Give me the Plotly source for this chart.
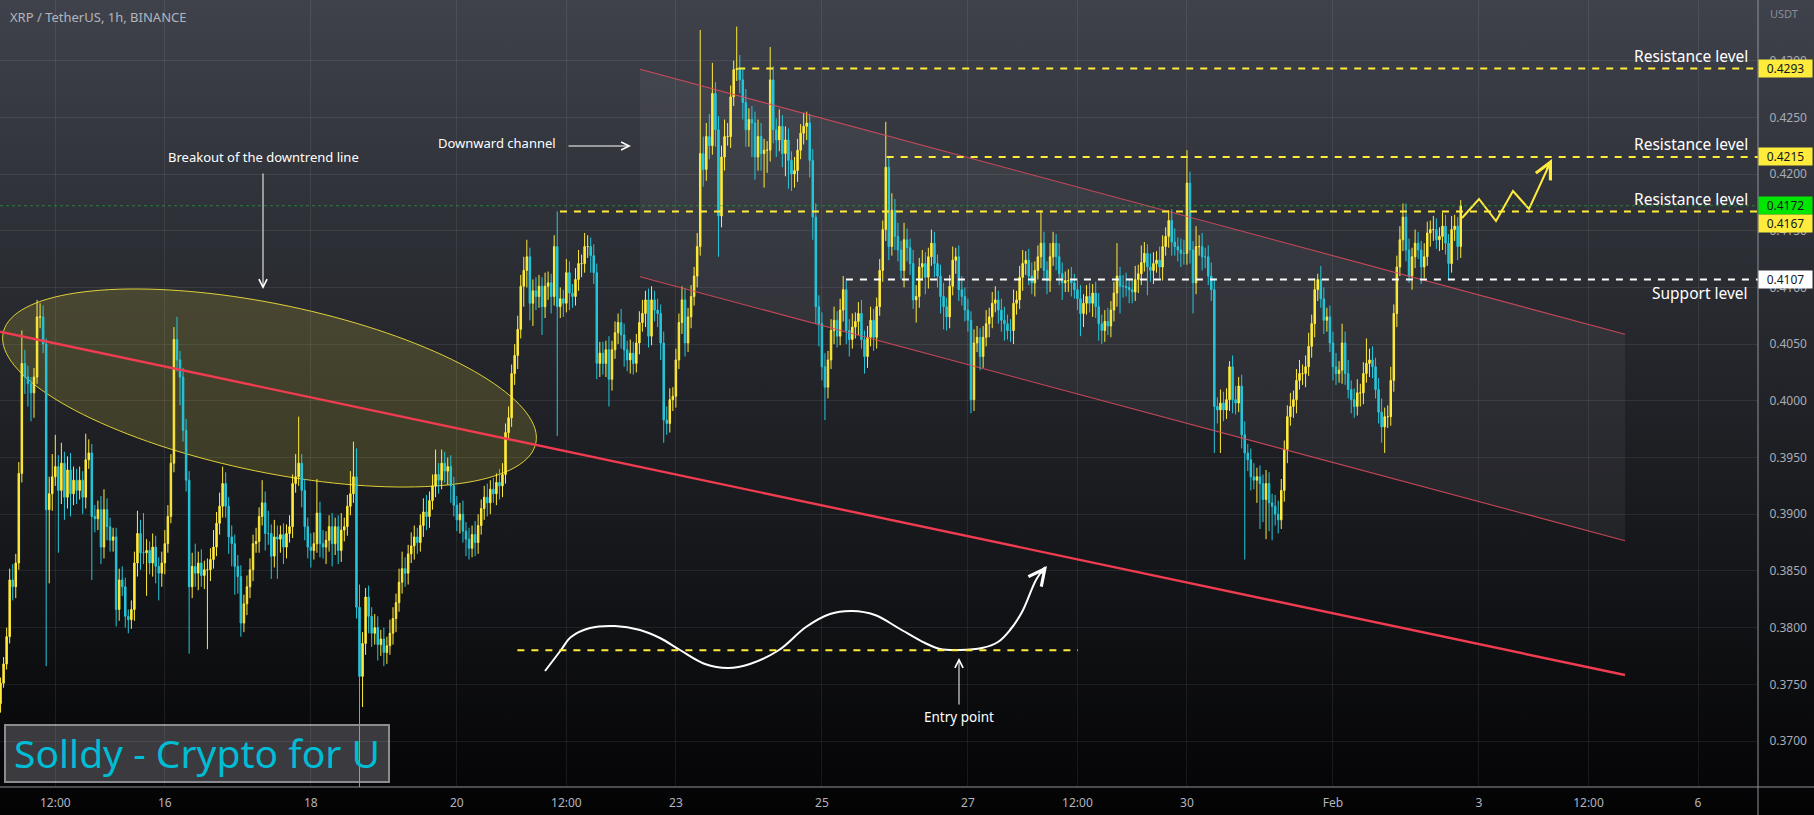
import base64
import datetime as dt
import numpy as np
import plotly.graph_objects as go

W, H = 1814, 815
MR, MB = 56, 28
PW, PH = W - MR, H - MB  # plot area 1758 x 787

T0 = dt.datetime(2023, 1, 16)


def t(h):
    return T0 + dt.timedelta(hours=h)


# ---------------- data (prices in units of 0.0001 USDT, 1h candles) ----------------
first_open = 3733
close_jan13 = [3751, 3768, 3792, 3842, 3836, 3857]
close_jan14 = [3936, 4033, 4021, 4015, 4007, 4021, 4074, 4074, 4050, 3904, 3918, 3933,
               3942, 3921, 3945, 3915, 3939, 3918, 3930, 3921, 3930, 3915, 3948, 3954]
close_jan15 = [3898, 3896, 3904, 3871, 3904, 3889, 3877, 3880, 3816, 3842, 3836, 3810,
               3807, 3816, 3857, 3883, 3866, 3866, 3868, 3857, 3871, 3854, 3848, 3857]
close_jan16 = [3874, 3898, 3945, 4054, 4036, 4021, 3974, 3930, 3836, 3854, 3848, 3857,
               3846, 3851, 3851, 3860, 3871, 3892, 3907, 3927, 3907, 3880, 3874, 3854]
close_jan17 = [3845, 3804, 3821, 3836, 3851, 3874, 3876, 3898, 3910, 3883, 3883, 3863,
               3880, 3878, 3882, 3871, 3883, 3889, 3927, 3933, 3945, 3921, 3889, 3871]
close_jan18 = [3868, 3874, 3901, 3874, 3871, 3877, 3889, 3874, 3889, 3868, 3886, 3889,
               3907, 3918, 3933, 3818, 3757, 3786, 3827, 3810, 3795, 3800, 3785, 3790]
close_jan19 = [3778, 3784, 3795, 3808, 3822, 3840, 3852, 3848, 3865, 3872, 3880, 3875,
               3890, 3902, 3898, 3912, 3925, 3935, 3930, 3945, 3938, 3942, 3925, 3908]
close_jan20 = [3895, 3900, 3885, 3878, 3870, 3882, 3875, 3890, 3905, 3915, 3910, 3922,
               3918, 3928, 3925, 3935, 3972, 3985, 4024, 4040, 4063, 4101, 4115, 4127]
close_jan21 = [4086, 4097, 4092, 4101, 4083, 4101, 4104, 4092, 4136, 4083, 4090, 4086,
               4113, 4095, 4092, 4107, 4121, 4121, 4136, 4136, 4128, 4113, 4033, 4042]
close_jan22 = [4033, 4045, 4019, 4045, 4060, 4069, 4058, 4045, 4036, 4042, 4033, 4051,
               4069, 4077, 4089, 4057, 4089, 4080, 4077, 4051, 3983, 3980, 4001, 4004]
close_jan23 = [4036, 4069, 4089, 4051, 4074, 4092, 4110, 4136, 4218, 4204, 4233, 4225,
               4271, 4239, 4163, 4215, 4233, 4233, 4268, 4292, 4293, 4283, 4263, 4239]
close_jan24 = [4248, 4245, 4215, 4233, 4218, 4221, 4221, 4283, 4239, 4230, 4242, 4218,
               4230, 4212, 4200, 4203, 4221, 4236, 4242, 4245, 4212, 4162, 4083, 4068]
close_jan25 = [4030, 4012, 4036, 4062, 4071, 4057, 4080, 4098, 4062, 4054, 4065, 4070,
               4077, 4054, 4039, 4056, 4071, 4056, 4083, 4115, 4151, 4206, 4136, 4168]
close_jan26 = [4145, 4133, 4115, 4142, 4135, 4121, 4089, 4092, 4118, 4121, 4109, 4127,
               4139, 4121, 4110, 4092, 4083, 4074, 4101, 4124, 4127, 4098, 4092, 4080]
close_jan27 = [4071, 4001, 4051, 4056, 4039, 4056, 4068, 4074, 4086, 4089, 4080, 4071,
               4068, 4062, 4062, 4086, 4089, 4109, 4121, 4124, 4110, 4104, 4115, 4127]
close_jan28 = [4139, 4115, 4106, 4127, 4139, 4127, 4112, 4104, 4106, 4106, 4104, 4098,
               4090, 4077, 4086, 4092, 4086, 4095, 4083, 4068, 4062, 4070, 4066, 4080]
close_jan29 = [4095, 4110, 4101, 4101, 4100, 4098, 4096, 4107, 4112, 4122, 4130, 4118,
               4115, 4121, 4124, 4118, 4136, 4145, 4159, 4140, 4136, 4133, 4130, 4130]
close_jan30 = [4192, 4133, 4104, 4136, 4136, 4127, 4127, 4110, 4098, 3995, 3992, 3998,
               3992, 4001, 4030, 4001, 3998, 4013, 3970, 3954, 3948, 3933, 3930, 3933]
close_jan31 = [3927, 3913, 3927, 3910, 3907, 3900, 3895, 3921, 3957, 3986, 3995, 4001,
               4018, 4024, 4024, 4030, 4048, 4068, 4098, 4107, 4090, 4071, 4074, 4051]
close_feb01 = [4030, 4024, 4027, 4051, 4024, 4010, 4001, 3995, 4007, 4007, 4024, 4033,
               4036, 4030, 4010, 3990, 3977, 3986, 3986, 4018, 4077, 4118, 4142, 4162]
close_feb02 = [4133, 4110, 4127, 4139, 4133, 4118, 4127, 4148, 4151, 4151, 4142, 4145,
               4154, 4139, 4121, 4151, 4154, 4136, 4172]

# upper / lower wick lengths above / below the body (same units)
up_jan13 = [5, 6, 8, 10, 14, 8]
dn_jan13 = [8, 4, 5, 6, 12, 10]
up_jan14 = [10, 29, 12, 10, 6, 8, 15, 12, 10, 5, 15, 20, 28, 10, 18, 10, 12, 15, 12, 10, 12, 8, 23, 12]
dn_jan14 = [6, 8, 15, 20, 25, 22, 6, 10, 8, 138, 65, 15, 8, 55, 12, 20, 10, 20, 10, 12, 8, 15, 10, 8]
up_jan15 = [8, 10, 8, 12, 18, 10, 8, 8, 8, 10, 12, 8, 6, 8, 10, 20, 12, 35, 10, 8, 12, 10, 8, 10]
dn_jan15 = [56, 12, 10, 15, 10, 12, 10, 10, 15, 10, 8, 10, 12, 8, 10, 12, 15, 10, 38, 10, 12, 15, 24, 12]
up_jan16 = [12, 10, 8, 11, 20, 8, 8, 10, 8, 12, 20, 10, 12, 8, 10, 10, 15, 10, 12, 15, 10, 8, 10, 8]
dn_jan16 = [10, 8, 6, 8, 10, 25, 10, 10, 59, 10, 12, 15, 10, 12, 70, 10, 8, 8, 10, 10, 10, 15, 20, 25]
up_jan17 = [10, 10, 8, 10, 10, 8, 12, 8, 20, 10, 20, 8, 15, 10, 8, 10, 8, 10, 8, 20, 41, 8, 10, 8]
dn_jan17 = [15, 12, 8, 10, 10, 10, 8, 10, 8, 15, 10, 20, 10, 35, 12, 15, 10, 8, 10, 8, 8, 15, 12, 10]
up_jan18 = [12, 10, 30, 10, 12, 8, 10, 12, 8, 10, 15, 8, 10, 20, 31, 25, 20, 10, 8, 10, 8, 12, 10, 8]
dn_jan18 = [15, 8, 8, 12, 10, 15, 10, 20, 10, 12, 10, 10, 8, 8, 8, 10, 157, 27, 10, 15, 12, 10, 14, 10]
up_jan19 = [10, 8, 12, 10, 8, 12, 15, 10, 8, 12, 10, 8, 10, 12, 15, 8, 10, 22, 10, 12, 10, 8, 10, 8]
dn_jan19 = [12, 10, 8, 10, 12, 8, 10, 12, 10, 8, 12, 10, 8, 10, 12, 10, 8, 10, 12, 8, 10, 12, 15, 10]
up_jan20 = [8, 10, 12, 8, 10, 8, 12, 10, 8, 10, 12, 8, 10, 8, 12, 10, 8, 10, 8, 10, 12, 10, 12, 15]
dn_jan20 = [10, 12, 10, 15, 10, 8, 12, 10, 8, 10, 12, 10, 8, 10, 12, 10, 8, 6, 8, 10, 12, 8, 18, 15]
up_jan21 = [8, 10, 12, 10, 8, 12, 10, 8, 10, 31, 10, 8, 12, 10, 8, 10, 12, 8, 12, 10, 8, 10, 8, 10]
dn_jan21 = [15, 20, 12, 10, 25, 10, 12, 15, 8, 114, 10, 12, 8, 15, 10, 8, 10, 12, 8, 10, 15, 10, 14, 12]
up_jan22 = [10, 8, 12, 8, 10, 8, 12, 10, 8, 12, 10, 8, 10, 12, 8, 10, 12, 8, 10, 8, 10, 12, 10, 8]
dn_jan22 = [10, 12, 24, 10, 8, 10, 12, 15, 10, 12, 10, 8, 10, 8, 12, 10, 8, 10, 12, 15, 20, 10, 8, 10]
up_jan23 = [10, 8, 12, 10, 8, 10, 8, 12, 109, 15, 12, 20, 27, 10, 12, 10, 15, 12, 10, 8, 37, 12, 10, 12]
dn_jan23 = [10, 8, 10, 12, 8, 10, 8, 10, 8, 15, 10, 12, 8, 15, 36, 10, 12, 8, 10, 8, 10, 12, 15, 15]
up_jan24 = [10, 12, 10, 15, 12, 10, 8, 29, 12, 10, 15, 10, 12, 10, 8, 12, 10, 8, 12, 10, 8, 10, 12, 10]
dn_jan24 = [15, 30, 20, 12, 15, 30, 20, 10, 12, 15, 10, 12, 20, 25, 15, 12, 10, 8, 10, 12, 15, 20, 15, 20]
up_jan25 = [10, 12, 8, 10, 12, 8, 10, 12, 8, 10, 12, 8, 10, 12, 8, 10, 12, 10, 8, 10, 8, 40, 8, 15]
dn_jan25 = [12, 29, 10, 8, 12, 10, 8, 10, 12, 15, 8, 10, 12, 8, 15, 10, 8, 12, 10, 8, 10, 10, 12, 8]
up_jan26 = [10, 12, 8, 15, 10, 8, 12, 10, 8, 12, 10, 8, 12, 10, 8, 10, 12, 8, 10, 12, 8, 10, 12, 8]
dn_jan26 = [12, 10, 8, 15, 12, 10, 8, 20, 10, 12, 15, 10, 8, 12, 10, 15, 20, 12, 10, 8, 12, 10, 8, 10]
up_jan27 = [10, 8, 12, 10, 8, 10, 12, 8, 10, 12, 8, 10, 12, 8, 10, 12, 8, 10, 12, 8, 10, 12, 8, 10]
dn_jan27 = [10, 12, 10, 8, 12, 10, 8, 12, 10, 8, 12, 10, 15, 8, 10, 12, 10, 8, 12, 10, 8, 10, 12, 8]
up_jan28 = [29, 10, 8, 12, 10, 8, 12, 10, 8, 10, 12, 8, 10, 12, 8, 10, 12, 8, 10, 12, 8, 10, 12, 8]
dn_jan28 = [10, 8, 12, 10, 8, 12, 10, 15, 8, 10, 12, 8, 10, 20, 12, 10, 8, 12, 10, 15, 12, 10, 8, 10]
up_jan29 = [10, 29, 8, 10, 12, 8, 10, 12, 8, 15, 10, 8, 12, 10, 8, 12, 10, 8, 9, 10, 12, 8, 10, 12]
dn_jan29 = [10, 12, 24, 10, 8, 12, 10, 8, 12, 10, 8, 25, 10, 12, 8, 10, 12, 8, 10, 12, 8, 10, 12, 10]
up_jan30 = [29, 10, 8, 18, 10, 12, 8, 10, 12, 10, 8, 12, 10, 10, 5, 10, 12, 8, 10, 12, 8, 10, 12, 8]
dn_jan30 = [10, 12, 27, 10, 8, 12, 10, 8, 10, 41, 12, 38, 10, 8, 10, 12, 10, 8, 12, 94, 10, 12, 8, 20]
up_jan31 = [10, 8, 12, 10, 8, 10, 12, 10, 8, 10, 12, 8, 10, 12, 8, 10, 12, 8, 10, 5, 12, 10, 8, 10]
dn_jan31 = [40, 20, 35, 25, 30, 10, 12, 8, 10, 12, 8, 10, 12, 8, 10, 12, 8, 10, 12, 10, 8, 12, 10, 8]
up_feb01 = [10, 12, 8, 17, 10, 12, 8, 10, 12, 8, 10, 22, 10, 12, 8, 10, 12, 8, 10, 12, 8, 10, 12, 12]
dn_feb01 = [12, 10, 8, 12, 10, 8, 12, 10, 8, 12, 10, 8, 12, 10, 8, 10, 14, 23, 10, 8, 10, 12, 8, 10]
up_feb02 = [12, 10, 8, 12, 10, 8, 12, 10, 8, 12, 10, 8, 12, 10, 8, 12, 10, 8, 5]
dn_feb02 = [10, 6, 12, 10, 8, 15, 10, 8, 12, 10, 8, 10, 12, 10, 14, 8, 10, 12, 10]

days = ["jan13", "jan14", "jan15", "jan16", "jan17", "jan18", "jan19", "jan20", "jan21",
        "jan22", "jan23", "jan24", "jan25", "jan26", "jan27", "jan28", "jan29", "jan30",
        "jan31", "feb01", "feb02"]
g = globals()
closes_u, ups, dns = [], [], []
for d in days:
    c, u, w = g["close_" + d], g["up_" + d], g["dn_" + d]
    assert len(c) == len(u) == len(w), d
    closes_u += c
    ups += u
    dns += w

opens_u = [first_open] + closes_u[:-1]
opens = [v / 1e4 for v in opens_u]
closes = [v / 1e4 for v in closes_u]
highs = [(max(o, c) + u) / 1e4 for o, c, u in zip(opens_u, closes_u, ups)]
lows = [(min(o, c) - w) / 1e4 for o, c, w in zip(opens_u, closes_u, dns)]
start = dt.datetime(2023, 1, 13, 18)
times = [start + dt.timedelta(hours=i) for i in range(len(closes))]

# levels / drawings (time in hours from Jan 16 00:00, price)
levels = [  # price, start hour, colour
    (0.4293, 188.5, "#ffeb3b"),
    (0.4215, 237.3, "#ffeb3b"),
    (0.4167, 129.9, "#ffeb3b"),
    (0.4107, 223.9, "#ffffff"),
]
entry_level = (0.3780, 115.9, 300.2)
trend_line = ((-54.18, 0.40609), (480.0, 0.37582))
channel_top = ((156.2, 0.42923), (480.0, 0.40587))
channel_bot = ((156.2, 0.41094), (480.0, 0.38766))
last_price = 0.4172

price_ticks = [0.370 + 0.005 * i for i in range(13)]
time_ticks = [t(-36), t(0), t(48), t(96), t(132), t(168), t(216), t(264), t(300),
              t(336), t(384), t(432), t(468), t(504)]
time_labels = ["12:00", "16", "18", "20", "12:00", "23", "25", "27", "12:00",
               "30", "Feb", "3", "12:00", "6"]

# ---------------- geometry helpers ----------------
H_LO, H_HI = -54.18, 523.72
P_LO, P_HI = 0.365944, 0.435344


def px_x(X):
    return t(H_LO + X / PW * (H_HI - H_LO))


def px_y(Y):
    return P_HI - Y / PH * (P_HI - P_LO)


def pap(X, Y):
    return X / PW, 1 - Y / PH


def dstr(d):
    return d.strftime("%Y-%m-%d_%H:%M:%S")


FONT = "Noto Sans, Liberation Sans, sans-serif"
GRID = "rgba(255,255,255,0.075)"
YEL = "#ffeb3b"
CYAN = "#26c6da"

fig = go.Figure()

# channel fill
(h0, p0), (h1, p1) = channel_top
(h2, p2), (h3, p3) = channel_bot
fig.add_shape(type="path", xref="x", yref="y", layer="below",
              path=f"M {dstr(t(h0))},{p0} L {dstr(t(h1))},{p1} L {dstr(t(h3))},{p3} L {dstr(t(h2))},{p2} Z",
              fillcolor="rgba(200,202,215,0.07)", line=dict(width=0))

# ellipse
cx, cy, ea, eb, th = 269.5, 388.0, 272.0, 84.0, np.radians(11.7)
phi = np.linspace(0, 2 * np.pi, 150)
ex = cx + ea * np.cos(phi) * np.cos(th) - eb * np.sin(phi) * np.sin(th)
ey = cy + ea * np.cos(phi) * np.sin(th) + eb * np.sin(phi) * np.cos(th)
pts = [pap(a, b) for a, b in zip(ex, ey)]
path = "M " + " L ".join(f"{a:.5f},{b:.5f}" for a, b in pts) + " Z"
fig.add_shape(type="path", xref="paper", yref="paper", layer="below", path=path,
              fillcolor="rgba(255,235,59,0.15)", line=dict(color="rgba(255,235,59,0.85)", width=1))

# watermark box
x0, y0 = pap(5, 782)
x1, y1 = pap(389, 725)
fig.add_shape(type="rect", xref="paper", yref="paper", layer="below", x0=x0, x1=x1, y0=y0, y1=y1,
              fillcolor="#3a3a3f", line=dict(color="#8c8c90", width=2))

fig.add_trace(go.Candlestick(
    x=times, open=opens, high=highs, low=lows, close=closes,
    increasing=dict(line=dict(color=YEL, width=1), fillcolor=YEL),
    decreasing=dict(line=dict(color=CYAN, width=1), fillcolor=CYAN),
    whiskerwidth=0, hoverinfo="skip", showlegend=False))

# wave sketch
wave_px = [(545, 671), (561, 650), (571, 637), (590, 628), (615, 626), (640, 630), (660, 638),
           (680, 650), (705, 664), (728, 668), (750, 664), (779, 650), (806, 627), (830, 614),
           (852, 611), (875, 615), (900, 629), (925, 643), (940, 649), (960, 650), (982, 648),
           (998, 642), (1010, 630), (1022, 612), (1036, 580), (1045, 567)]
fig.add_trace(go.Scatter(x=[px_x(a) for a, b in wave_px], y=[px_y(b) for a, b in wave_px],
                         mode="lines", line=dict(color="white", width=2, shape="spline", smoothing=1),
                         hoverinfo="skip", showlegend=False))

# yellow projection zigzag
zig_px = [(1462, 218), (1479, 199), (1496, 221), (1513, 191), (1529, 209), (1551, 161)]
fig.add_trace(go.Scatter(x=[px_x(a) for a, b in zig_px], y=[px_y(b) for a, b in zig_px],
                         mode="lines", line=dict(color=YEL, width=2),
                         hoverinfo="skip", showlegend=False))

# trend line & channel
for (ha, pa), (hb, pb), col, wd in [(trend_line[0], trend_line[1], "#ef3c50", 2.4),
                                    (channel_top[0], channel_top[1], "rgba(225,75,95,0.85)", 1.1),
                                    (channel_bot[0], channel_bot[1], "rgba(225,75,95,0.85)", 1.1)]:
    fig.add_shape(type="line", xref="x", yref="y", x0=t(ha), y0=pa, x1=t(hb), y1=pb,
                  line=dict(color=col, width=wd))

# dotted last price line
fig.add_shape(type="line", xref="x", yref="y", x0=t(H_LO), x1=t(H_HI), y0=last_price, y1=last_price,
              line=dict(color="rgba(40,190,60,0.55)", width=1, dash="dot"))

for p, h, col in levels:
    fig.add_shape(type="line", xref="x", yref="y", x0=t(h), x1=t(H_HI), y0=p, y1=p,
                  line=dict(color=col, width=2, dash="7px,7px"))
fig.add_shape(type="line", xref="x", yref="y", x0=t(entry_level[1]), x1=t(entry_level[2]),
              y0=entry_level[0], y1=entry_level[0], line=dict(color=YEL, width=2, dash="7px,7px"))

# axis borders (extend through the scale areas)
fig.add_shape(type="line", xref="paper", yref="paper", x0=0, x1=W / PW, y0=0, y1=0,
              line=dict(color="#8f929b", width=1))
fig.add_shape(type="line", xref="paper", yref="paper", x0=1, x1=1, y0=-MB / PH, y1=1,
              line=dict(color="#8f929b", width=1))

ann = []


def text(X, Y, s, size, color="white", xanchor="center", family=FONT):
    x, y = pap(X, Y)
    ann.append(dict(xref="paper", yref="paper", x=x, y=y, text=s, showarrow=False,
                    xanchor=xanchor, yanchor="middle", font=dict(family=family, size=size, color=color)))


def arrow(Xh, Yh, Xt, Yt, color="white", width=1):
    x, y = pap(Xh, Yh)
    ann.append(dict(xref="paper", yref="paper", x=x, y=y, ax=Xt - Xh, ay=Yt - Yh, text="",
                    showarrow=True, arrowhead=5, arrowsize=1.6, arrowwidth=width, arrowcolor=color))


text(8, 17, "XRP / TetherUS, 1h, BINANCE", 13, "#b2b5be", "left")
text(1768, 14, "USDT", 11, "#8a8d96", "left")
text(263, 157, "Breakout of the downtrend line", 13)
arrow(263, 289, 263, 172)
text(497, 143, "Downward channel", 13)
arrow(631, 146, 567, 146)
text(959, 717, "Entry point", 13.5)
arrow(959, 658, 959, 706)
arrow(1047, 566, 1040, 575, width=2)
arrow(1552, 159, 1546, 171, color=YEL, width=2)
for yy in (56, 144, 199):
    text(1750, yy, "Resistance level", 15.5, "white", "right")
text(1750, 293, "Support level", 15.5, "white", "right")
text(197, 752, "Solldy - Crypto for U", 39, "#00bcd4")

for p, bg, dy in [(0.4293, YEL, 0), (0.4215, YEL, 0), (0.4172, "#00e600", 0),
                  (0.4167, YEL, -12), (0.4107, "#ffffff", 0)]:
    ann.append(dict(xref="paper", yref="y", x=1.0, y=p, yshift=dy, text=f"{p:.4f}", showarrow=False,
                    xanchor="left", yanchor="middle", bgcolor=bg, width=49, height=13, borderpad=2,
                    font=dict(family=FONT, size=12, color="#131722")))

svg = ("<svg xmlns='http://www.w3.org/2000/svg' width='10' height='100' preserveAspectRatio='none'>"
       "<defs><linearGradient id='g' x1='0' y1='0' x2='0' y2='1'>"
       "<stop offset='0' stop-color='#3f424b'/><stop offset='0.5' stop-color='#202227'/>"
       "<stop offset='1' stop-color='#030304'/></linearGradient></defs>"
       "<rect width='10' height='100' fill='url(#g)'/></svg>")
src = "data:image/svg+xml;base64," + base64.b64encode(svg.encode()).decode()

fig.update_layout(
    width=W, height=H, margin=dict(l=0, r=MR, t=0, b=MB, pad=0),
    paper_bgcolor="#000000", plot_bgcolor="rgba(0,0,0,0)", showlegend=False,
    images=[dict(source=src, xref="paper", yref="paper", x=0, y=1, sizex=W / PW, sizey=H / PH,
                 xanchor="left", yanchor="top", sizing="stretch", layer="below")],
    xaxis=dict(type="date", range=[t(H_LO), t(H_HI)], tickvals=time_ticks, ticktext=time_labels,
               showgrid=True, gridcolor=GRID, gridwidth=1, zeroline=False, showline=False,
               ticks="outside", ticklen=5, tickcolor="rgba(0,0,0,0)",
               tickfont=dict(family=FONT, size=12, color="#b2b5be"),
               rangeslider=dict(visible=False), fixedrange=True),
    yaxis=dict(side="right", range=[P_LO, P_HI], tickvals=price_ticks,
               ticktext=[f"{v:.4f}" for v in price_ticks], showgrid=True, gridcolor=GRID,
               zeroline=False, showline=False, ticks="outside", ticklen=8,
               tickcolor="rgba(0,0,0,0)", tickfont=dict(family=FONT, size=12, color="#a9acb5"),
               fixedrange=True),
    annotations=ann,
)

fig.write_html("out.html")
